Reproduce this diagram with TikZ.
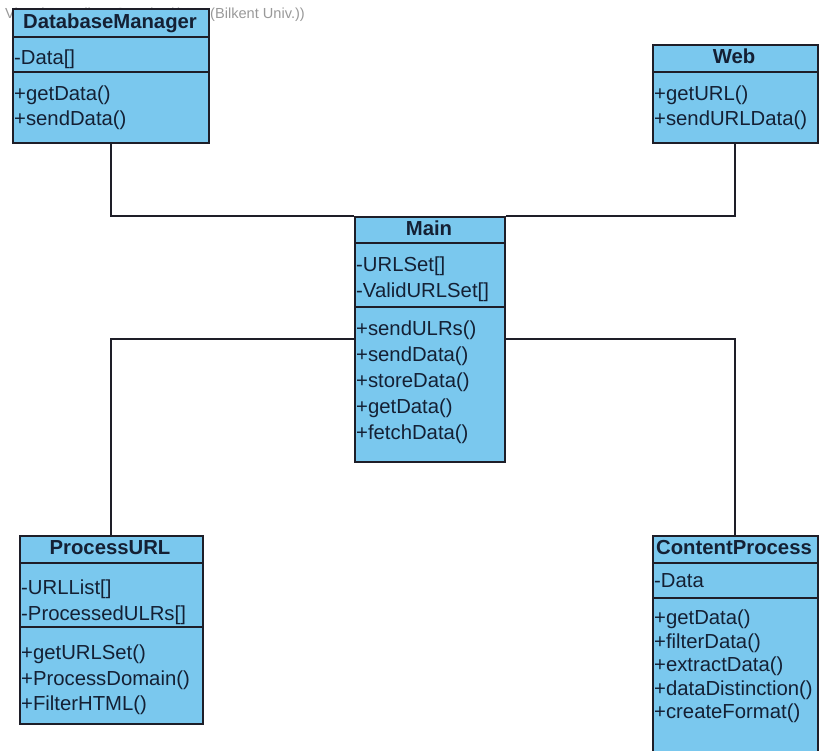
\documentclass[tikz,border=0pt]{standalone}
\usepackage{fontspec}
\setmainfont{Liberation Sans}
\definecolor{classfill}{RGB}{122,200,238}
\definecolor{classtext}{RGB}{20,32,52}
\definecolor{edgecol}{RGB}{30,30,40}
\tikzset{
  classbox/.style={draw=edgecol, fill=classfill, line width=1.8pt, anchor=north west, inner sep=0pt},
  sepline/.style={draw=edgecol, line width=1.5pt},
  title/.style={font=\fontsize{20.3}{24}\selectfont\bfseries, text=classtext, inner sep=0pt, text height=15pt, text depth=4pt},
  member/.style={font=\fontsize{20.3}{24}\selectfont, text=classtext, inner sep=0pt, anchor=west, text height=15pt, text depth=4pt},
  assoc/.style={draw=edgecol, line width=2pt},
  watermark/.style={font=\fontsize{14.6}{17}\selectfont, text=black!40, inner sep=0pt, anchor=west}
}
\begin{document}
\begin{tikzpicture}[x=1pt,y=-1pt]
\useasboundingbox (0,0) rectangle (822,750);
\clip (0,0) rectangle (822,750);

% editor watermark, partly covered by the first class
\node[watermark] (wm) at (5,15) {Visual Paradigm Standard(User(Bilkent Univ.))};

% class frames
\node[classbox, minimum width=196pt, minimum height=134pt] (db)   at (12,8)   {};
\node[classbox, minimum width=165pt, minimum height=98pt]  (web)  at (652,44)  {};
\node[classbox, minimum width=150pt, minimum height=245pt] (main) at (354,216) {};
\node[classbox, minimum width=183pt, minimum height=188pt] (purl) at (19,535)  {};
\node[classbox, minimum width=165pt, minimum height=225pt] (cp)   at (652,535) {};

% associations
\draw[assoc] (db.south) |- (main.north west);
\draw[assoc] (web.south) |- (main.north east);
\draw[assoc] (main.west) -| (purl.north);
\draw[assoc] (main.east) -| (cp.north);

% compartment separators
\draw[sepline] (db.west |- 0,37) -- (db.east |- 0,37);
\draw[sepline] (db.west |- 0,72) -- (db.east |- 0,72);
\draw[sepline] (web.west |- 0,72) -- (web.east |- 0,72);
\draw[sepline] (main.west |- 0,243) -- (main.east |- 0,243);
\draw[sepline] (main.west |- 0,307) -- (main.east |- 0,307);
\draw[sepline] (purl.west |- 0,563) -- (purl.east |- 0,563);
\draw[sepline] (purl.west |- 0,627) -- (purl.east |- 0,627);
\draw[sepline] (cp.west |- 0,563) -- (cp.east |- 0,563);
\draw[sepline] (cp.west |- 0,598) -- (cp.east |- 0,598);

% DatabaseManager
\node[title] (dbT) at (110,23) {DatabaseManager};
\node[member] (dbA1) at (14,59) {-Data[]};
\node[member] (dbM1) at (14,95) {+getData()};
\node[member] (dbM2) at (14,120) {+sendData()};

% Web
\node[title] (webT) at (734,58) {Web};
\node[member] (webM1) at (654,95) {+getURL()};
\node[member] (webM2) at (654,120) {+sendURLData()};

% Main
\node[title] (mainT) at (429,230) {Main};
\node[member] (mainA1) at (356,266) {-URLSet[]};
\node[member] (mainA2) at (356,292) {-ValidURLSet[]};
\node[member] (mainM1) at (356,330) {+sendULRs()};
\node[member] (mainM2) at (356,356) {+sendData()};
\node[member] (mainM3) at (356,382) {+storeData()};
\node[member] (mainM4) at (356,408) {+getData()};
\node[member] (mainM5) at (356,434) {+fetchData()};

% ProcessURL
\node[title] (purlT) at (110,549) {ProcessURL};
\node[member] (purlA1) at (21,589) {-URLList[]};
\node[member] (purlA2) at (21,615) {-ProcessedULRs[]};
\node[member] (purlM1) at (21,654) {+getURLSet()};
\node[member] (purlM2) at (21,680) {+ProcessDomain()};
\node[member] (purlM3) at (21,705) {+FilterHTML()};

% ContentProcess
\node[title] (cpT) at (734,549) {ContentProcess};
\node[member] (cpA1) at (654,582) {-Data};
\node[member] (cpM1) at (654,619) {+getData()};
\node[member] (cpM2) at (654,643) {+filterData()};
\node[member] (cpM3) at (654,666) {+extractData()};
\node[member] (cpM4) at (654,690) {+dataDistinction()};
\node[member] (cpM5) at (654,713) {+createFormat()};
\end{tikzpicture}
\end{document}
